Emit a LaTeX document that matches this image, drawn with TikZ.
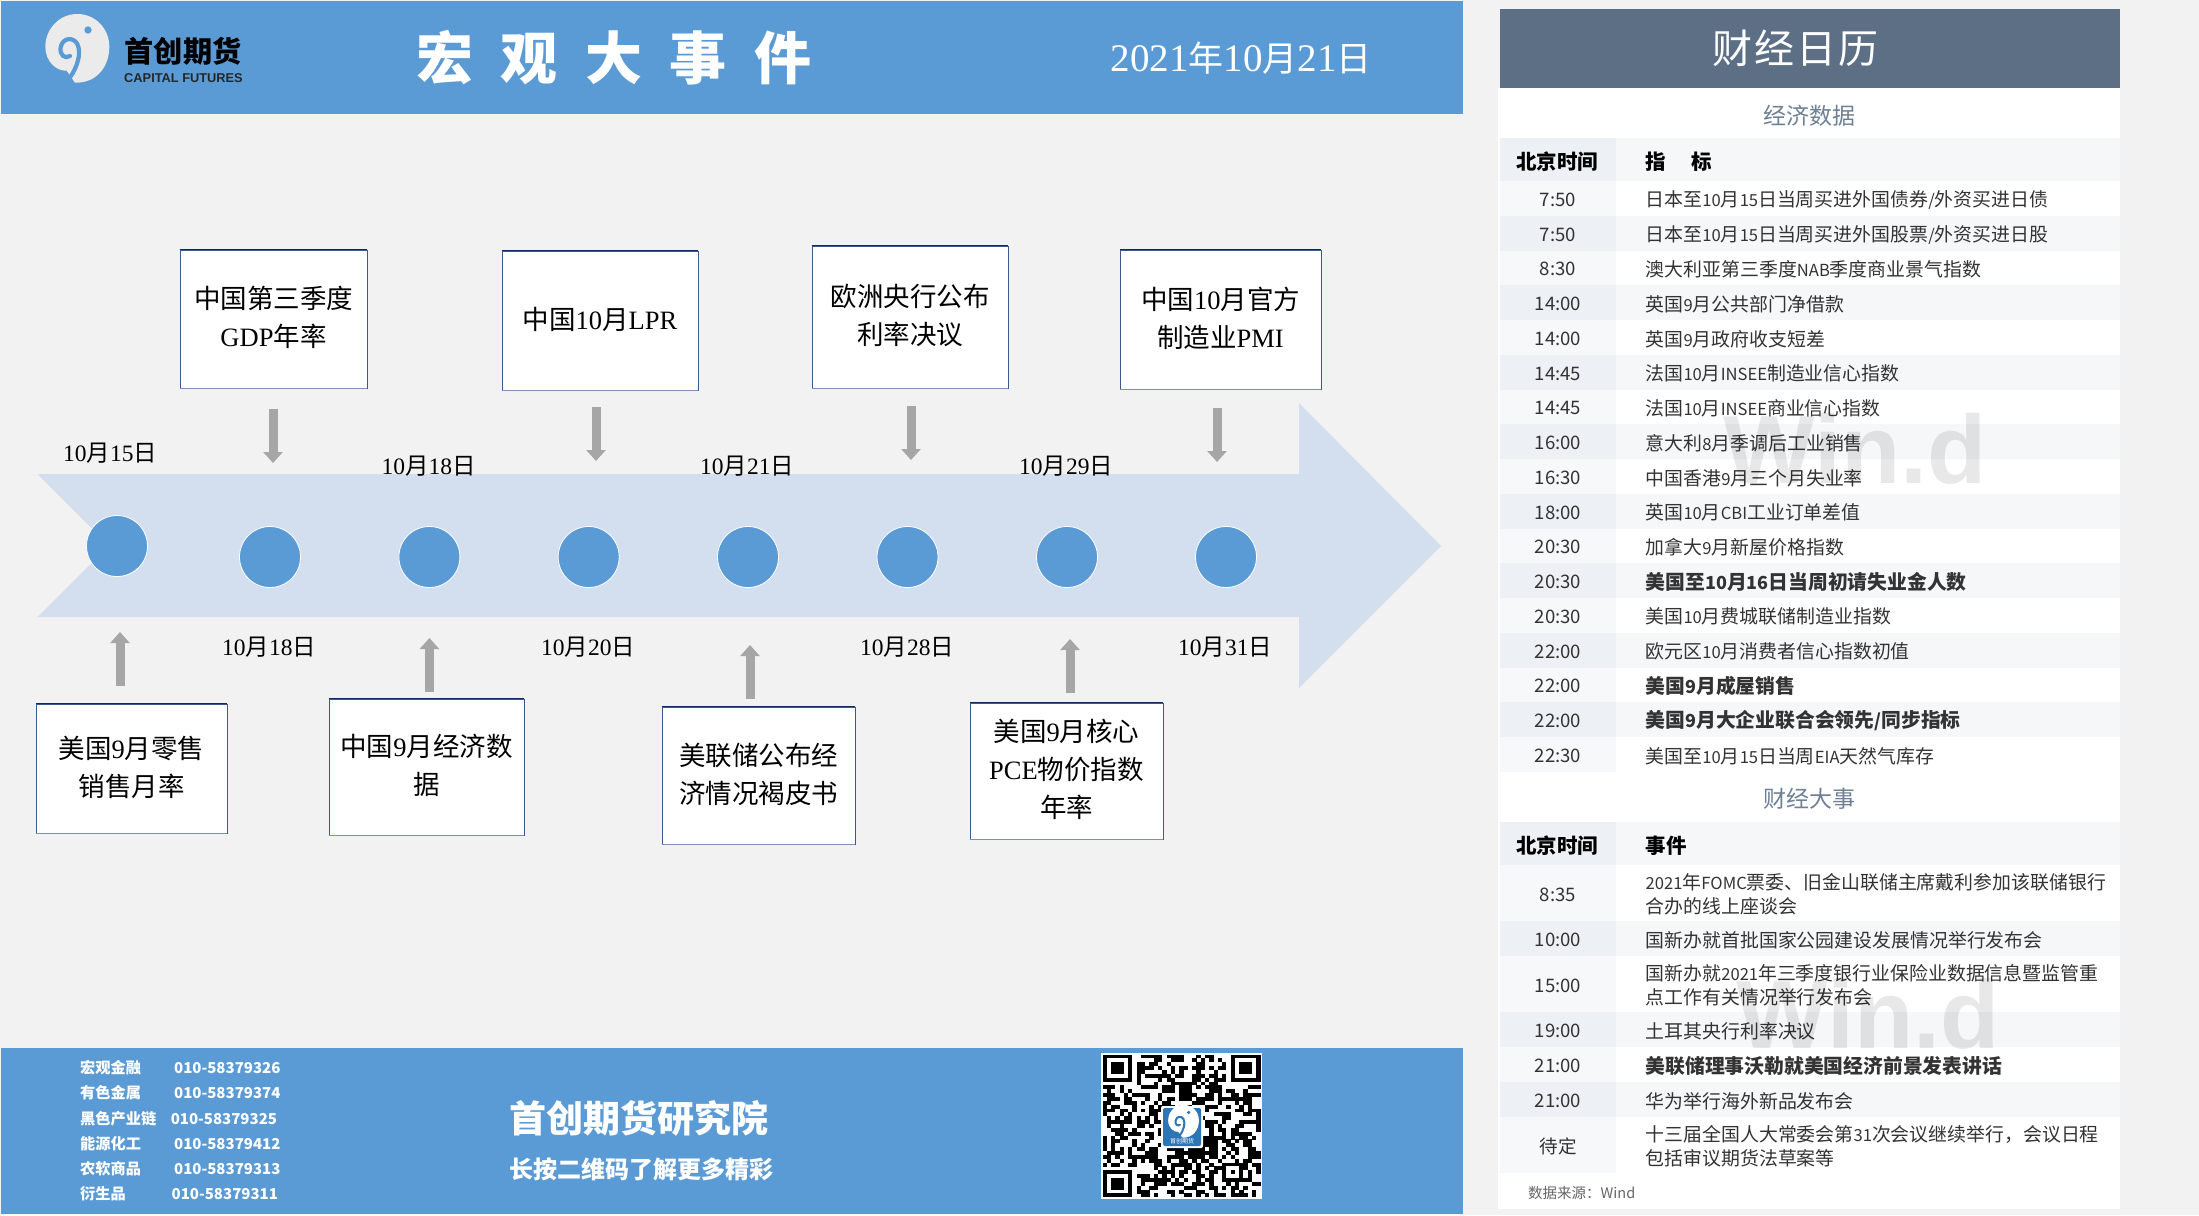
\documentclass[tikz,border=0pt]{standalone}
\usepackage{fontspec}
\usetikzlibrary{arrows.meta}
\setmainfont{Liberation Serif}
\newfontfamily\cjk{Noto Sans CJK SC}
\newfontfamily\lat{Liberation Serif}
\newfontfamily\arial{Liberation Sans}
\definecolor{hdrblue}{HTML}{5B9BD5}
\definecolor{pagebg}{HTML}{F2F2F2}
\definecolor{bandblue}{HTML}{D3DEEF}
\definecolor{slate}{HTML}{5C6F85}
\definecolor{slatetxt}{HTML}{6E8096}
\definecolor{tcola}{HTML}{F7F8FA}
\definecolor{tcolb}{HTML}{EDF0F5}
\definecolor{rowb}{HTML}{F6F7F9}
\definecolor{boxline}{HTML}{3B5A94}
\definecolor{boxtop}{HTML}{14285F}
\definecolor{boxbot}{HTML}{7F8FB3}
\definecolor{arrowgray}{HTML}{A6A6A6}
\definecolor{rowtxt}{HTML}{333333}
\definecolor{qrblue}{HTML}{2E75B6}
\newcommand{\nl}[1]{{\fontsize{16.6}{24}\selectfont #1}}
\newcommand{\nb}[1]{{\fontsize{18}{24}\selectfont #1}}
\newcommand{\bigb}{\bfseries\fontsize{19.8}{24}\selectfont}
\tikzset{
  evbox/.style={draw=boxline,fill=white,line width=.9pt,inner sep=0pt,align=center,text depth=5.2pt,
    font=\cjk\fontsize{26.5}{38}\selectfont,text=black},
  datelabel/.style={inner sep=0pt,font=\cjk\fontsize{23.5}{26}\selectfont,text=black},
  tlcircle/.style={circle,fill=hdrblue,draw=white,line width=.8pt,minimum size=61pt,inner sep=0pt},
  grayarrow/.style={draw=arrowgray,line width=9pt,-{Triangle[width=19pt,length=11pt]}},
  rowtext/.style={inner sep=0pt,anchor=west,text=rowtxt,font=\cjk\fontsize{18.9}{24}\selectfont,align=left},
  timetext/.style={inner sep=0pt,text=rowtxt,font=\cjk\fontsize{18.6}{24}\selectfont},
  headtext/.style={inner sep=0pt,text=black,font=\cjk\bfseries\fontsize{20.5}{24}\selectfont},
  sectext/.style={inner sep=0pt,text=slatetxt,font=\cjk\fontsize{23}{26}\selectfont},
  contact/.style={inner sep=0pt,text=white,anchor=west,font=\cjk\bfseries\fontsize{15.2}{18}\selectfont},
  contactnum/.style={inner sep=0pt,text=white,anchor=west,font=\cjk\bfseries\fontsize{15}{18}\selectfont},
  watermark/.style={inner sep=0pt,text=black,text opacity=.09,font=\arial\bfseries\fontsize{97}{100}\selectfont}
}
\newcommand{\logoblob}[3]{%
  \fill[#1] (165,248) .. controls (230,250) and (268,200) .. (268,140)
    .. controls (268,85) and (225,42) .. (172,42)
    .. controls (115,42) and (76,90) .. (76,140)
    .. controls (76,185) and (110,214) .. (140,212) -- cycle;
  \draw[#2,line width=#3,line cap=round] (150,232) .. controls (170,205) and (186,160) .. (172,132)
    .. controls (160,110) and (128,112) .. (122,142)
    .. controls (118,165) and (135,178) .. (150,168);
  \fill[#2] (204,90) circle (11);
}
\newcommand{\dt}[2]{{\lat #1}月{\lat #2}日}
\begin{document}
\begin{tikzpicture}[x=1pt,y=-1pt]
\useasboundingbox (0,0) rectangle (2199,1215);
\fill[pagebg] (0,0) rectangle (2199,1215);
% header
\fill[hdrblue] (1,1) rectangle (1463,114);
\begin{scope}[shift={(20,0)},x=.3333pt,y=-.3333pt]
  \logoblob{white!92!black}{hdrblue}{4.2pt}
\end{scope}
\node[inner sep=0pt,text=black,font=\cjk\bfseries\fontsize{29.2}{30}\selectfont] (brand) at (183,51) {首创期货};
\node[inner sep=0pt,text=black!85,font=\arial\bfseries\fontsize{12.8}{13}\selectfont] (brandl) at (183.5,78) {CAPITAL FUTURES};
\node[inner sep=0pt,text=white,font=\cjk\bfseries\fontsize{57}{60}\selectfont] (title) at (614,58)
  {宏\hspace{27.5pt}观\hspace{27.5pt}大\hspace{27.5pt}事\hspace{27.5pt}件};
\node[inner sep=0pt,text=white,font=\cjk\fontsize{35}{36}\selectfont] (today) at (1241,58)
  {{\lat\fontsize{39}{39}\selectfont 2021}年{\lat\fontsize{39}{39}\selectfont 10}月{\lat\fontsize{39}{39}\selectfont 21}日};
% band arrow
\fill[bandblue] (37.5,474) -- (1299,474) -- (1299,403) -- (1441,546) -- (1299,688) -- (1299,617) -- (37.5,617) -- (109,545.5) -- cycle;
% circles
\node[tlcircle] (c1) at (117,546) {};
\foreach \n/\cx in {2/270,3/429.4,4/588.7,5/748,6/907.5,7/1067,8/1226}
  \node[tlcircle] (c\n) at (\cx,557) {};
% date labels
\node[datelabel] (d1) at (110,453) {\dt{10}{15}};
\node[datelabel] (d3) at (428.5,466) {\dt{10}{18}};
\node[datelabel] (d5) at (747,466) {\dt{10}{21}};
\node[datelabel] (d7) at (1066,466) {\dt{10}{29}};
\node[datelabel] (d2) at (269,647) {\dt{10}{18}};
\node[datelabel] (d4) at (588,647) {\dt{10}{20}};
\node[datelabel] (d6) at (907,647) {\dt{10}{28}};
\node[datelabel] (d8) at (1225,647) {\dt{10}{31}};
% event boxes
\node[evbox,minimum width=187pt,minimum height=138pt] (t1) at (273.5,319) {中国第三季度\\{\lat GDP}年率};
\node[evbox,minimum width=196pt,minimum height=139pt] (t2) at (600,320.5) {中国{\lat 10}月{\lat LPR}};
\node[evbox,minimum width=196pt,minimum height=142pt] (t3) at (910,317) {欧洲央行公布\\利率决议};
\node[evbox,minimum width=201pt,minimum height=139pt] (t4) at (1220.5,319.5) {中国{\lat 10}月官方\\制造业{\lat PMI}};
\node[evbox,minimum width=191pt,minimum height=129pt] (b1) at (131.5,768.5) {美国{\lat 9}月零售\\销售月率};
\node[evbox,minimum width=195pt,minimum height=136pt] (b2) at (426.5,767) {中国{\lat 9}月经济数\\据};
\node[evbox,minimum width=193pt,minimum height=137pt] (b3) at (758.5,775.5) {美联储公布经\\济情况褐皮书};
\node[evbox,minimum width=193pt,minimum height=136pt] (b4) at (1066.5,771) {美国{\lat 9}月核心\\{\lat PCE}物价指数\\年率};
\foreach \b in {t1,t2,t3,t4,b1,b2,b3,b4}{
  \draw[boxtop,line width=1.2pt] (\b.north west) -- (\b.north east);
  \draw[boxbot,line width=1.8pt] (\b.south west) -- (\b.south east);
}
% grey arrows
\coordinate (as1) at (273,409); \coordinate (ae1) at (273,463);
\coordinate (as2) at (596,407); \coordinate (ae2) at (596,461);
\coordinate (as3) at (911,406); \coordinate (ae3) at (911,460);
\coordinate (as4) at (1217,408); \coordinate (ae4) at (1217,462);
\coordinate (as5) at (120,686); \coordinate (ae5) at (120,632);
\coordinate (as6) at (429.4,692); \coordinate (ae6) at (429.4,638);
\coordinate (as7) at (750,699); \coordinate (ae7) at (750,645);
\coordinate (as8) at (1070,693); \coordinate (ae8) at (1070,639);
\foreach \a in {1,...,8} \draw[grayarrow] (as\a) -- (ae\a);
% footer
\fill[hdrblue] (1,1048) rectangle (1463,1214);
\foreach \n/\y/\nm/\nx/\tel in {1/1068/宏观金融/174/010-58379326,2/1093/有色金属/174/010-58379374,3/1119/黑色产业链/170.6/010-58379325,4/1144/能源化工/174/010-58379412,5/1169/农软商品/174/010-58379313,6/1194/衍生品/171.5/010-58379311}{
  \node[contact] (cn\n) at (80,\y) {\nm};
  \node[contactnum] (ct\n) at (\nx,\y) {\tel};
}
\node[inner sep=0pt,text=white,font=\cjk\bfseries\fontsize{37}{40}\selectfont] (inst) at (639,1118) {首创期货研究院};
\node[inner sep=0pt,text=white,font=\cjk\bfseries\fontsize{24}{26}\selectfont] (hint) at (641,1169) {长按二维码了解更多精彩};
% QR code
\fill[white] (1101,1053) rectangle (1262,1199);
\begin{scope}[shift={(1102.5,1054.5)},x=4.27pt,y=-3.86pt]
  \pgfmathsetseed{2021}
  \foreach \i in {0,...,36}{
    \foreach \j in {0,...,36}{
      \pgfmathparse{rnd<0.52?1:0}
      \ifnum\pgfmathresult=1
        \pgfmathparse{((\i<8&&\j<8)||(\i>28&&\j<8)||(\i<8&&\j>28)||(\i>13&&\i<23&&\j>13&&\j<23)||(\i>27&&\i<33&&\j>27&&\j<33))?0:1}
        \ifnum\pgfmathresult=1
          \fill[black] (\i,\j) rectangle (\i+1.02,\j+1.02);
        \fi
      \fi
    }
  }
  \foreach \fx/\fy in {0/0,30/0,0/30}{
    \fill[black] (\fx,\fy) rectangle (\fx+7,\fy+7);
    \fill[white] (\fx+1,\fy+1) rectangle (\fx+6,\fy+6);
    \fill[black] (\fx+2,\fy+2) rectangle (\fx+5,\fy+5);
  }
  \fill[black] (28,28) rectangle (33,33);
  \fill[white] (29,29) rectangle (32,32);
  \fill[black] (30,30) rectangle (31,31);
\end{scope}
\fill[white,rounded corners=2pt] (1161,1106) rectangle (1203,1148);
\fill[qrblue,rounded corners=2pt] (1163,1108) rectangle (1201,1146);
\begin{scope}[shift={(1156,1098)},x=.16pt,y=-.16pt]
  \logoblob{white}{qrblue}{2pt}
\end{scope}
\node[inner sep=0pt,text=white,font=\cjk\fontsize{6}{6}\selectfont] (qrname) at (1182,1141) {首创期货};
% calendar panel
\fill[white] (1498,88) rectangle (2119.5,1209);
\fill[slate] (1500,9) rectangle (2119.5,88);
\node[inner sep=0pt,text=white,font=\cjk\fontsize{40}{42}\selectfont] (cal) at (1795,48) {财\hspace{2pt}经\hspace{2pt}日\hspace{2pt}历};
\node[sectext] (sec1) at (1809,115.5) {经济数据};
\fill[tcolb] (1500,138) rectangle (1616,181);
\fill[rowb] (1616,138) rectangle (2119.5,181);
\node[headtext] (h1a) at (1557,161.5) {北京时间};
\node[headtext,anchor=west] (h1b) at (1645.5,161.5) {指\hspace{25pt}标};
\foreach \tm/\tx [count=\n from 0] in {
  7:50/{日本至\nl{10}月\nl{15}日当周买进外国债券\nl{/}外资买进日债},
  7:50/{日本至\nl{10}月\nl{15}日当周买进外国股票\nl{/}外资买进日股},
  8:30/{澳大利亚第三季度\nl{NAB}季度商业景气指数},
  14:00/{英国\nl{9}月公共部门净借款},
  14:00/{英国\nl{9}月政府收支短差},
  14:45/{法国\nl{10}月\nl{INSEE}制造业信心指数},
  14:45/{法国\nl{10}月\nl{INSEE}商业信心指数},
  16:00/{意大利\nl{8}月季调后工业销售},
  16:30/{中国香港\nl{9}月三个月失业率},
  18:00/{英国\nl{10}月\nl{CBI}工业订单差值},
  20:30/{加拿大\nl{9}月新屋价格指数},
  20:30/{\bigb 美国至\nb{10}月\nb{16}日当周初请失业金人数},
  20:30/{美国\nl{10}月费城联储制造业指数},
  22:00/{欧元区\nl{10}月消费者信心指数初值},
  22:00/{\bigb 美国\nb{9}月成屋销售},
  22:00/{\bigb 美国\nb{9}月大企业联合会领先\nb{/}同步指标},
  22:30/{美国至\nl{10}月\nl{15}日当周\nl{EIA}天然气库存}}{
  \pgfmathsetmacro{\ya}{181+34.75*\n}
  \pgfmathsetmacro{\yb}{\ya+34.75}
  \pgfmathsetmacro{\ym}{\ya+18.8}
  \ifodd\n
    \fill[tcolb] (1500,\ya) rectangle (1616,\yb);
    \fill[rowb] (1616,\ya) rectangle (2119.5,\yb);
  \else
    \fill[tcola] (1500,\ya) rectangle (1616,\yb);
  \fi
  \node[timetext] (rt\n) at (1558,\ym) {\tm};
  \node[rowtext] (rx\n) at (1645.5,\ym) {\tx};
}
\node[sectext] (sec2) at (1809,798.5) {财经大事};
\fill[tcolb] (1500,822) rectangle (1616,865);
\fill[rowb] (1616,822) rectangle (2119.5,865);
\node[headtext] (h2a) at (1557,845.5) {北京时间};
\node[headtext,anchor=west] (h2b) at (1645.5,845.5) {事件};
\foreach \ya/\yb/\tm/\tx [count=\n from 0] in {
  865/921/8:35/{\nl{2021}年\nl{FOMC}票委、旧金山联储主席戴利参加该联储银行\\合办的线上座谈会},
  921/956/10:00/{国新办就首批国家公园建设发展情况举行发布会},
  956/1012/15:00/{国新办就\nl{2021}年三季度银行业保险业数据信息暨监管重\\点工作有关情况举行发布会},
  1012/1047/19:00/{土耳其央行利率决议},
  1047/1082/21:00/{\bigb 美联储理事沃勒就美国经济前景发表讲话},
  1082/1117/21:00/{华为举行海外新品发布会},
  1117/1173/待定/{十三届全国人大常委会第\nl{31}次会议继续举行，会议日程\\包括审议期货法草案等}}{
  \pgfmathsetmacro{\ym}{(\ya+\yb)/2+1.4}
  \ifodd\n
    \fill[tcolb] (1500,\ya) rectangle (1616,\yb);
    \fill[rowb] (1616,\ya) rectangle (2119.5,\yb);
  \else
    \fill[tcola] (1500,\ya) rectangle (1616,\yb);
  \fi
  \node[timetext] (et\n) at (1558,\ym) {\tm};
  \node[rowtext] (ex\n) at (1645.5,\ym) {\tx};
}
\node[inner sep=0pt,anchor=west,text=black!60,font=\cjk\fontsize{14.5}{16}\selectfont] (src) at (1528,1193) {数据来源：Wind};
\node[watermark] (wm1) at (1855,449) {Win.d};
\node[watermark] (wm2) at (1868,1014) {Win.d};
\end{tikzpicture}
\end{document}
